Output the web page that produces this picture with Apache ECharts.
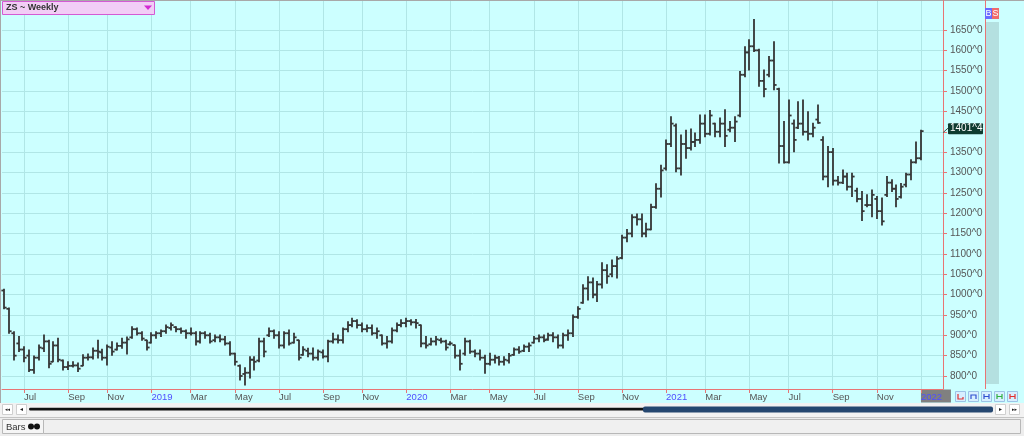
<!DOCTYPE html>
<html><head><meta charset="utf-8">
<script src="https://cdn.jsdelivr.net/npm/echarts@6/dist/echarts.min.js"></script>
<style>html,body{margin:0;padding:0;background:#ccffff;}#c{width:1024px;height:436px;}</style>
</head><body><div id="c"></div>
<script>
const titleText = 'ZS ~ Weekly';
const firstWeek = [2018, 5, 4]; // Monday 4 Jun 2018
const slotCount = 192;
const open = [1010,965,905,880,865,850,815,845,868,885,
835,875,838,822,825,826,825,845,846,862,
858,845,870,865,874,882,895,915,905,888,
882,900,905,910,918,920,915,910,905,905,
885,905,900,888,895,890,880,855,825,805,
808,840,838,885,900,910,900,875,905,882,
888,852,862,855,845,858,848,885,890,888,
915,925,935,925,915,918,905,900,880,885,
912,925,930,935,932,925,880,878,885,888,
885,878,876,850,855,885,860,855,845,830,
840,845,835,838,852,865,862,872,882,892,
895,890,900,895,875,900,905,945,980,1015,
1030,1000,1025,1060,1050,1070,1090,1140,1150,1190,
1185,1150,1160,1215,1260,1310,1370,1415,1310,1370,
1360,1375,1380,1420,1395,1420,1400,1420,1405,1410,
1440,1540,1595,1610,1600,1525,1540,1575,1505,1365,
1325,1420,1410,1420,1400,1395,1430,1380,1290,1350,
1280,1275,1290,1265,1255,1235,1220,1220,1235,1205,
1245,1275,1260,1240,1270,1295,1325,1335];
const high = [1013,967,909,897,872,864,849,876,901,888,
884,893,839,835,835,832,852,854,869,888,
866,876,884,881,893,896,921,918,909,888,
906,909,913,925,930,921,918,913,918,909,
909,909,905,901,901,897,884,856,827,820,
847,847,893,893,918,913,909,909,913,905,
888,872,868,869,864,864,888,905,901,918,
933,942,938,930,925,925,918,901,897,918,
930,938,942,938,939,925,897,893,897,893,
888,884,876,864,893,888,864,864,851,856,
851,848,847,855,869,872,876,881,897,901,
901,905,906,901,905,913,950,970,1024,1044,
1041,1032,1078,1073,1085,1093,1146,1160,1196,1198,
1198,1175,1222,1272,1318,1380,1437,1419,1392,1404,
1407,1397,1441,1441,1452,1421,1434,1454,1425,1437,
1548,1609,1626,1676,1603,1552,1585,1621,1507,1425,
1478,1429,1474,1478,1449,1421,1466,1388,1364,1359,
1290,1306,1298,1298,1261,1253,1245,1257,1241,1237,
1290,1282,1269,1273,1298,1331,1375,1404];
const low = [965,905,839,860,835,811,807,839,860,820,
835,835,815,816,822,811,825,839,842,844,
839,827,851,864,868,854,893,901,888,864,
881,893,897,905,913,909,905,893,901,876,
881,893,881,884,884,876,851,827,790,778,
795,815,835,847,897,893,869,869,876,881,
839,851,847,839,839,844,835,881,881,881,
909,921,918,909,909,901,893,876,869,881,
909,921,921,925,918,872,869,876,876,881,
864,876,844,815,851,856,847,839,807,827,
832,827,827,832,851,856,860,860,881,884,
884,888,884,869,869,888,897,942,979,987,
992,983,1016,1028,1044,1041,1088,1130,1142,1171,
1142,1142,1159,1212,1240,1306,1364,1302,1294,1335,
1355,1364,1372,1388,1392,1388,1388,1364,1400,1376,
1437,1535,1552,1597,1512,1486,1535,1503,1323,1323,
1323,1351,1408,1392,1380,1388,1421,1282,1265,1269,
1269,1273,1257,1241,1228,1182,1216,1191,1187,1171,
1241,1253,1216,1237,1265,1282,1323,1331];
const close = [968,910,850,865,845,815,845,870,885,830,
875,840,822,825,826,818,845,846,862,860,
845,872,860,874,882,890,915,905,892,870,
900,905,910,920,925,915,910,905,905,885,
905,900,885,895,890,880,855,835,800,808,
840,835,885,860,910,900,875,905,880,895,
845,865,855,845,860,848,885,890,888,915,
925,935,925,915,918,905,910,880,885,912,
925,930,935,932,930,880,875,885,890,885,
870,880,850,830,885,860,855,845,830,840,
845,835,840,850,865,860,872,875,892,895,
888,900,895,875,900,905,945,965,1015,1030,
1000,1025,1060,1045,1070,1088,1140,1150,1190,1185,
1150,1160,1215,1260,1305,1370,1420,1310,1370,1360,
1375,1380,1420,1395,1440,1400,1420,1390,1410,1425,
1540,1595,1610,1600,1525,1505,1575,1515,1365,1325,
1440,1380,1420,1400,1395,1410,1422,1290,1350,1280,
1275,1290,1265,1290,1235,1205,1220,1245,1205,1180,
1275,1260,1235,1265,1295,1325,1335,1401.5];
const tickIndex = [4,13,21,30,38,47,56,65,73,82,91,99,108,117,126,135,143,152,160,169,178,187];
const tickText = ['Jul','Sep','Nov','2019','Mar','May','Jul','Sep','Nov','2020','Mar','May','Jul','Sep','Nov','2021','Mar','May','Jul','Sep','Nov','2022'];
const priceTicks = [800,850,900,950,1000,1050,1100,1150,1200,1250,1300,1350,1400,1450,1500,1550,1600,1650];
const priceLabels = [800,850,900,950,1000,1050,1100,1150,1200,1250,1300,1350,1450,1500,1550,1600,1650];
const lastPrice = 1401.5;
const lastPriceText = '1401^4';

const cats = [];
for (let i = 0; i < slotCount; i++) {
  const d = new Date(Date.UTC(firstWeek[0], firstWeek[1], firstWeek[2] + 7 * i));
  cats.push(d.toISOString().slice(0, 10));
}
const tickMap = {};
tickIndex.forEach((ix, k) => { tickMap[ix] = tickText[k]; });
const isTick = (idx) => tickMap[idx] !== undefined;
const bars = open.map((o, i) => [i, o, high[i], low[i], close[i]]);

const RED = '#e87474';
const GRID = '#b0e6e6';
const FONT = 'Liberation Sans';
const BAR = '#353535';

const chart = echarts.init(document.getElementById('c'), null, {renderer: 'canvas', width: 1024, height: 436});

function renderItem(params, api) {
  const i = api.value(0);
  const pO = api.coord([i, api.value(1)]);
  const pH = api.coord([i, api.value(2)]);
  const pL = api.coord([i, api.value(3)]);
  const pC = api.coord([i, api.value(4)]);
  const x = Math.round(pH[0]);
  const st = {stroke: BAR, lineWidth: 1.8};
  return {type: 'group', children: [
    {type: 'line', shape: {x1: x, y1: pH[1] - 0.5, x2: x, y2: pL[1] + 0.5}, style: st},
    {type: 'line', shape: {x1: x - 2.6, y1: pO[1], x2: x, y2: pO[1]}, style: st},
    {type: 'line', shape: {x1: x, y1: pC[1], x2: x + 2.6, y2: pC[1]}, style: st}
  ]};
}

chart.setOption({
  backgroundColor: '#ccffff',
  animation: false,
  grid: {left: 2, right: 81, top: 0, bottom: 47},
  xAxis: {
    type: 'category', data: cats, boundaryGap: true,
    axisLine: {show: true, lineStyle: {color: RED, width: 1}},
    axisTick: {show: true, interval: isTick, alignWithLabel: true, length: 4, lineStyle: {color: RED}},
    axisLabel: {
      interval: isTick, align: 'left', margin: 3,
      fontSize: 9.5, fontFamily: FONT, color: '#555',
      formatter: (v, idx) => {
        const t = tickMap[idx];
        if (t === undefined) return '';
        return /^\d{4}$/.test(t) ? '{y|' + t + '}' : t;
      },
      rich: {y: {color: '#4e4eff', fontSize: 9.5, fontFamily: FONT}}
    },
    splitLine: {show: true, interval: isTick, alignWithLabel: true, lineStyle: {color: GRID, width: 1}}
  },
  yAxis: {
    type: 'value', position: 'right', min: 768.06, max: 1723.7,
    axisLine: {show: true, lineStyle: {color: RED, width: 1}},
    axisTick: {show: true, length: 4, customValues: priceTicks, lineStyle: {color: RED}},
    axisLabel: {customValues: priceLabels, formatter: v => v + '^0', margin: 7, fontSize: 10, fontFamily: FONT, color: '#555', padding: [0, 0, 6, 0]},
    splitLine: {show: true, lineStyle: {color: GRID, width: 1}}
  },
  series: [{
    type: 'custom', renderItem: renderItem, data: bars,
    encode: {x: 0, y: [1, 2, 3, 4]}, clip: false, z: 5
  }]
});

const py = chart.convertToPixel({yAxisIndex: 0}, lastPrice);
const lastTickX = chart.convertToPixel({xAxisIndex: 0}, tickIndex[tickIndex.length - 1]);

const btnStyle = {fill: '#d7efff', stroke: '#9cc3e6', lineWidth: 1};
const g = [
  {type: 'line', shape: {x1: 0.5, y1: 0, x2: 0.5, y2: 403}, style: {stroke: '#a8a8a8', lineWidth: 1}},
  {type: 'line', shape: {x1: 0, y1: 0.5, x2: 1024, y2: 0.5}, style: {stroke: '#a8a8a8', lineWidth: 1}},
  {type: 'rect', shape: {x: 2.5, y: 1.5, width: 152, height: 13}, style: {fill: '#f2cdf6', stroke: '#d45ad4', lineWidth: 1}},
  {type: 'text', x: 6, y: 8, style: {text: titleText, fill: '#333', font: 'bold 9px "Liberation Sans"', verticalAlign: 'middle'}},
  {type: 'polygon', shape: {points: [[144, 5.5], [152, 5.5], [148, 10]]}, style: {fill: '#d22ad2'}},
  {type: 'line', shape: {x1: 985.5, y1: 0, x2: 985.5, y2: 389}, style: {stroke: RED, lineWidth: 1}},
  {type: 'rect', shape: {x: 986, y: 22, width: 13, height: 362}, style: {fill: '#b4e0e0'}},
  {type: 'rect', shape: {x: 985, y: 8, width: 7, height: 11}, style: {fill: '#6a6aff'}},
  {type: 'text', x: 988.5, y: 13.5, style: {text: 'B', fill: '#fff', font: '9px "Liberation Sans"', align: 'center', verticalAlign: 'middle'}},
  {type: 'rect', shape: {x: 992, y: 8, width: 7, height: 11}, style: {fill: '#f06a6a'}},
  {type: 'text', x: 995.5, y: 13.5, style: {text: 'S', fill: '#fff', font: '9px "Liberation Sans"', align: 'center', verticalAlign: 'middle'}},
  {type: 'line', z: 10, shape: {x1: 943, y1: py + 1.5, x2: 948, y2: py - 3}, style: {stroke: '#3c5a50', lineWidth: 1}},
  {type: 'rect', z: 10, shape: {x: 948, y: py - 8, width: 35, height: 11, r: 1}, style: {fill: '#0e3b30'}},
  {type: 'text', z: 11, x: 950, y: py - 2.5, style: {text: lastPriceText, fill: '#fff', font: '10px "Liberation Sans"', verticalAlign: 'middle'}},
  {type: 'rect', z: -1, shape: {x: lastTickX, y: 389.5, width: 30, height: 13}, style: {fill: '#808080'}},
  // bottom-right small buttons
  {type: 'rect', shape: {x: 955.5, y: 391.5, width: 10, height: 10}, style: btnStyle},
  {type: 'polyline', shape: {points: [[958, 394], [958, 399], [963, 399], [963, 397]]}, style: {stroke: '#e03030', lineWidth: 1.2, fill: null}},
  {type: 'rect', shape: {x: 968.5, y: 391.5, width: 10, height: 10}, style: btnStyle},
  {type: 'polyline', shape: {points: [[971, 399], [971, 395], [976, 395], [976, 399]]}, style: {stroke: '#3050d0', lineWidth: 1.2, fill: null}},
  {type: 'rect', shape: {x: 981.5, y: 391.5, width: 10, height: 10}, style: btnStyle},
  {type: 'polyline', shape: {points: [[984, 394], [984, 399], [984, 396.5], [989, 396.5], [989, 394], [989, 399]]}, style: {stroke: '#3050d0', lineWidth: 1.2, fill: null}},
  {type: 'rect', shape: {x: 994.5, y: 391.5, width: 10, height: 10}, style: btnStyle},
  {type: 'polyline', shape: {points: [[997, 394], [997, 399], [997, 396.5], [1002, 396.5], [1002, 394], [1002, 399]]}, style: {stroke: '#30b040', lineWidth: 1.2, fill: null}},
  {type: 'rect', shape: {x: 1007.5, y: 391.5, width: 10, height: 10}, style: btnStyle},
  {type: 'polyline', shape: {points: [[1010, 394], [1010, 399], [1010, 396.5], [1015, 396.5], [1015, 394], [1015, 399]]}, style: {stroke: '#e03030', lineWidth: 1.2, fill: null}},
  // scroll row
  {type: 'rect', shape: {x: 0, y: 403, width: 1024, height: 14}, style: {fill: '#f2f2f2'}},
  {type: 'rect', shape: {x: 2.5, y: 404.5, width: 10, height: 10}, style: {fill: '#fff', stroke: '#cfcfcf', lineWidth: 1}},
  {type: 'text', x: 7.5, y: 409.5, style: {text: '◂◂', fill: '#222', font: '5px "DejaVu Sans"', align: 'center', verticalAlign: 'middle'}},
  {type: 'rect', shape: {x: 16.5, y: 404.5, width: 10, height: 10}, style: {fill: '#fff', stroke: '#cfcfcf', lineWidth: 1}},
  {type: 'text', x: 21.5, y: 409.5, style: {text: '◂', fill: '#222', font: '6px "DejaVu Sans"', align: 'center', verticalAlign: 'middle'}},
  {type: 'rect', shape: {x: 29, y: 407.8, width: 616, height: 2.8, r: 1.4}, style: {fill: '#111'}},
  {type: 'rect', shape: {x: 643, y: 406.5, width: 350, height: 6, r: 2}, style: {fill: '#24466f'}},
  {type: 'rect', shape: {x: 995.5, y: 404.5, width: 10, height: 10}, style: {fill: '#fff', stroke: '#cfcfcf', lineWidth: 1}},
  {type: 'text', x: 1000.5, y: 409.5, style: {text: '▸', fill: '#222', font: '6px "DejaVu Sans"', align: 'center', verticalAlign: 'middle'}},
  {type: 'rect', shape: {x: 1009.5, y: 404.5, width: 10, height: 10}, style: {fill: '#fff', stroke: '#cfcfcf', lineWidth: 1}},
  {type: 'text', x: 1014.5, y: 409.5, style: {text: '▸▸', fill: '#222', font: '5px "DejaVu Sans"', align: 'center', verticalAlign: 'middle'}},
  // status row
  {type: 'rect', shape: {x: 0, y: 417, width: 1024, height: 19}, style: {fill: '#ededed'}},
  {type: 'line', shape: {x1: 0, y1: 417.5, x2: 1024, y2: 417.5}, style: {stroke: '#c4c4c4', lineWidth: 1}},
  {type: 'rect', shape: {x: 2.5, y: 419.5, width: 41, height: 14}, style: {fill: '#f5f5f5', stroke: '#b8b8b8', lineWidth: 1}},
  {type: 'text', x: 6, y: 427, style: {text: 'Bars', fill: '#333', font: '9.5px "Liberation Sans"', verticalAlign: 'middle'}},
  {type: 'circle', shape: {cx: 31, cy: 426.5, r: 3}, style: {fill: '#111'}},
  {type: 'circle', shape: {cx: 37, cy: 426.5, r: 3}, style: {fill: '#111'}},
  {type: 'rect', shape: {x: 43.5, y: 419.5, width: 977, height: 14}, style: {fill: '#f0f0f0', stroke: '#b8b8b8', lineWidth: 1}}
];
chart.setOption({graphic: g});
</script>
</body></html>
